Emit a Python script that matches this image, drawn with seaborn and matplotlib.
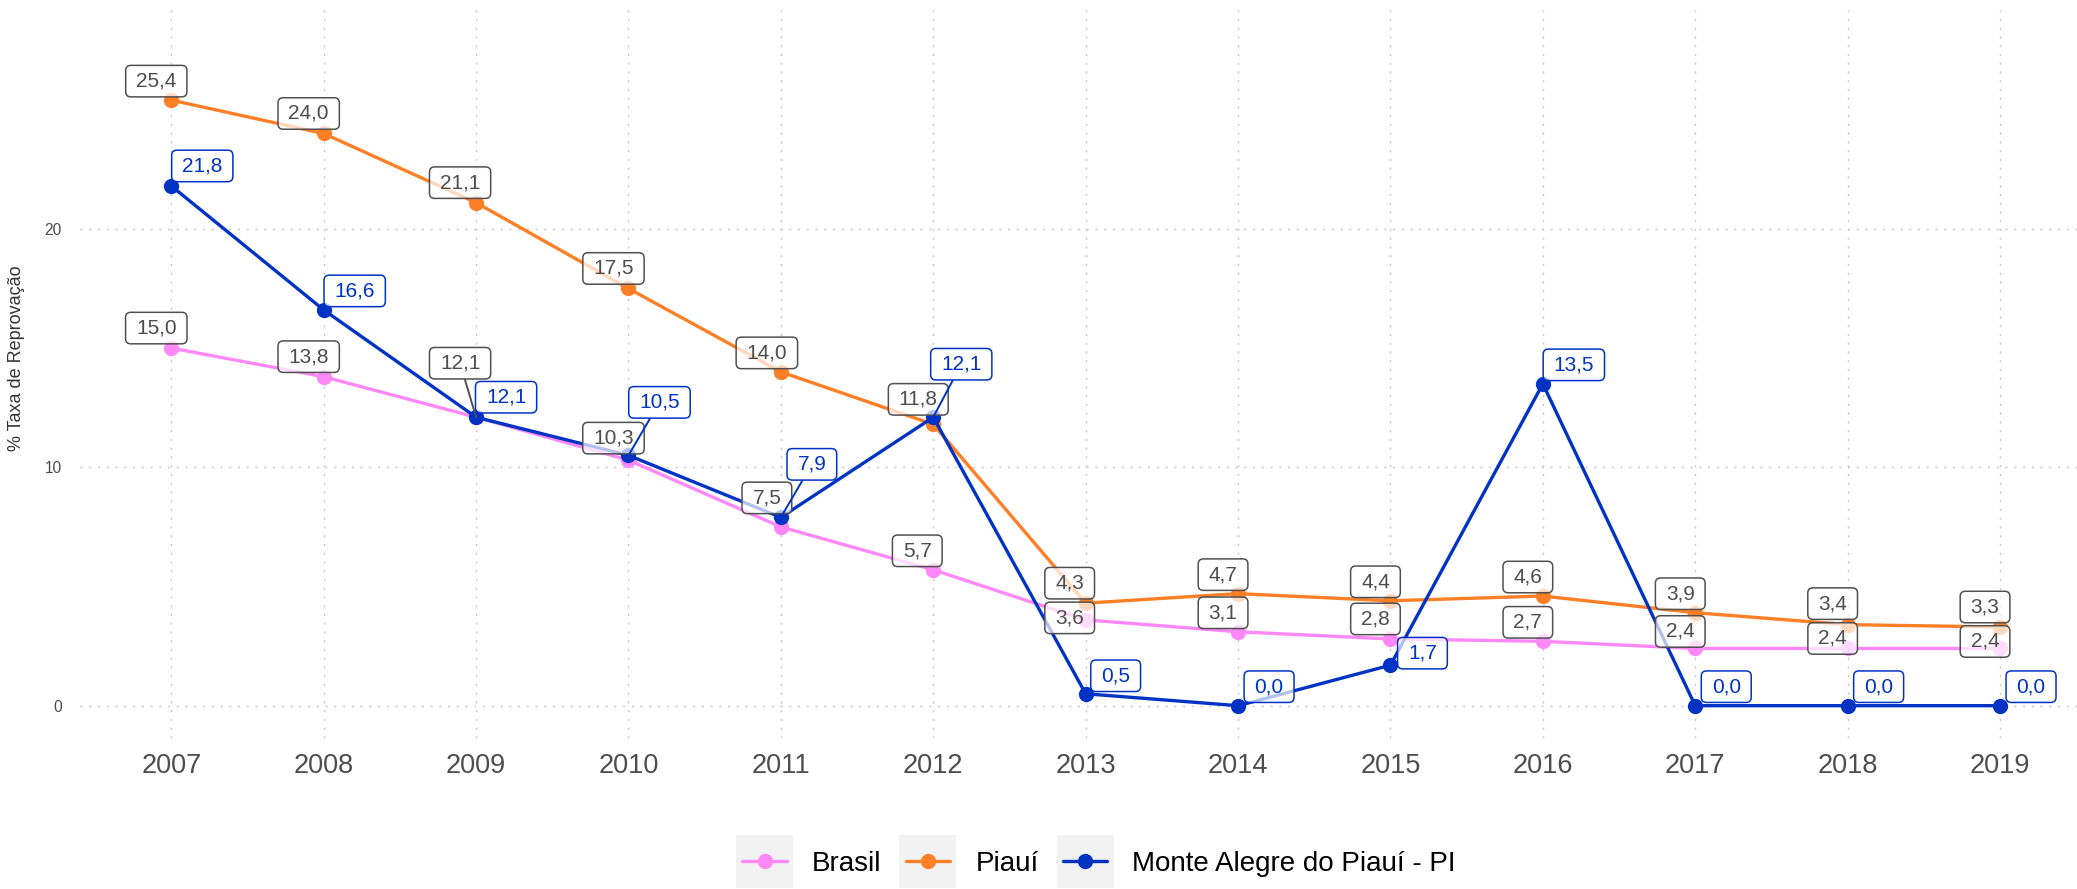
import matplotlib
matplotlib.use("Agg")
import matplotlib.pyplot as plt
import numpy as np
import pandas as pd
import seaborn as sns
from matplotlib.lines import Line2D
from matplotlib.patches import Rectangle, BoxStyle
from matplotlib.legend_handler import HandlerBase

# ---- data -------------------------------------------------------------
anos = list(range(2007, 2020))
locais = ["Brasil", "Piauí", "Monte Alegre do Piauí - PI"]
brasil = [15.0, 13.8, 12.1, 10.3, 7.5, 5.7, 3.6, 3.1, 2.8, 2.7, 2.4, 2.4, 2.4]
piaui = [25.4, 24.0, 21.1, 17.5, 14.0, 11.8, 4.3, 4.7, 4.4, 4.6, 3.9, 3.4, 3.3]
monte_alegre = [21.8, 16.6, 12.1, 10.5, 7.9, 12.1, 0.5, 0.0, 1.7, 13.5, 0.0, 0.0, 0.0]
y_ticks = [0, 10, 20]
y_titulo = "% Taxa de Reprovação"

# ---- style ------------------------------------------------------------
cores = ["#FF88F9", "#FF7F27", "#0033C4"]
cor_rotulo_texto = ["#4D4D4D", "#4D4D4D", "#0033C4"]
cor_rotulo_borda = ["#505050", "#505050", "#0033C4"]
largura_linha = 2.4
tamanho_ponto = 11

# label offsets in pixels (dx, dy upward) from each point, per series
desloc = {
    "Brasil": [(-15, 20), (-15, 20), (-16, 54), (-15, 22), (-14, 29), (-16, 19),
               (-16, 2), (-15, 19), (-15, 20), (-15, 19), (-15, 17), (-15, 10), (-15, 7)],
    "Piauí": [(-15, 19), (-15, 20), (-16, 20), (-15, 20), (-14, 19), (-15, 25),
              (-16, 20), (-15, 19), (-15, 19), (-15, 19), (-15, 19), (-15, 21), (-15, 20)],
    "Monte Alegre do Piauí - PI": [(31, 20), (31, 19), (30, 20), (31, 53), (31, 53), (28, 53),
                                   (30, 18), (31, 19), (32, 12), (31, 19), (31, 19), (31, 19), (31, 19)],
}

sns.set_theme(style="white")
plt.rcParams["font.family"] = ["Liberation Sans", "DejaVu Sans"]

df = pd.DataFrame({
    "Ano": anos * 3,
    "Taxa": brasil + piaui + monte_alegre,
    "Local": [locais[0]] * len(anos) + [locais[1]] * len(anos) + [locais[2]] * len(anos),
})

W, H = 2077, 889
fig = plt.figure(figsize=(W / 100, H / 100), dpi=100)
ax = fig.add_axes([80 / W, 151 / H, (W - 80) / W, 728 / H])

sns.lineplot(data=df, x="Ano", y="Taxa", hue="Local", hue_order=locais,
             palette=cores, marker="o", markersize=tamanho_ponto, markeredgewidth=0,
             linewidth=largura_linha, estimator=None, sort=False, legend=False, ax=ax)

ax.set_xlim(2006.401, 2019.505)
ax.set_ylim(-1.355, 29.18)
ax.set_xticks(anos)
ax.set_xticklabels([str(a) for a in anos])
ax.set_yticks(y_ticks)
ax.grid(True, color="#C8C8C8", linestyle=(0, (1.5, 4.8)), linewidth=1.0)
ax.set_axisbelow(True)
for s in ax.spines.values():
    s.set_visible(False)
ax.tick_params(axis="x", length=0, pad=11, labelsize=19.5, labelcolor="#4D4D4D")
ax.tick_params(axis="y", length=0, pad=13, labelsize=11.2, labelcolor="#4D4D4D")
ax.set_xlabel("")
ax.set_ylabel(y_titulo, fontsize=13, color="#333333")
ax.yaxis.set_label_coords(-0.0275, 0.522)


def caixa_rotulo(x0, y0, width, height, mutation_size):
    px = 0.50 * mutation_size
    py = 0.30 * mutation_size
    return BoxStyle.Round(pad=0, rounding_size=0.25)(
        x0 - px, y0 - py, width + 2 * px, height + 2 * py, mutation_size)


series = [brasil, piaui, monte_alegre]
for i, (local, valores) in enumerate(zip(locais, series)):
    for ano, v, (dx, dy) in zip(anos, valores, desloc[local]):
        texto = f"{v:.1f}".replace(".", ",")
        seta = None
        if abs(dy) > 40:
            seta = dict(arrowstyle="-", color=cor_rotulo_borda[i], lw=1.4,
                        shrinkA=0, shrinkB=0)
        ax.annotate(texto, xy=(ano, v), xytext=(dx, dy), textcoords="offset pixels",
                    ha="center", va="center", fontsize=15,
                    color=cor_rotulo_texto[i],
                    bbox=dict(boxstyle=caixa_rotulo, fc=(1, 1, 1, 0.7),
                              ec=cor_rotulo_borda[i], lw=1.1),
                    arrowprops=seta, zorder=6, annotation_clip=False)


class ChaveLegenda(HandlerBase):
    def create_artists(self, legend, orig_handle, xdescent, ydescent,
                       width, height, fontsize, trans):
        cy = height / 2 - ydescent
        x0 = -xdescent
        fundo = Rectangle((x0, cy - 0.955 * fontsize), width, 1.91 * fontsize,
                          facecolor="#F2F2F2", edgecolor="none", transform=trans)
        margem = 0.11 * width
        linha = Line2D([x0 + margem, x0 + width - margem], [cy, cy],
                       color=orig_handle.get_color(), lw=largura_linha, transform=trans)
        ponto = Line2D([x0 + width / 2], [cy], marker="o", markersize=tamanho_ponto,
                       markeredgewidth=0, color=orig_handle.get_color(),
                       linestyle="none", transform=trans)
        return [fundo, linha, ponto]


alcas = [Line2D([], [], color=c) for c in cores]
leg = fig.legend(alcas, locais, loc="center", bbox_to_anchor=(1096 / W, 25 / H),
                 ncol=3, frameon=False, fontsize=20, handlelength=2.05,
                 handletextpad=0.68, columnspacing=0.65,
                 handler_map={Line2D: ChaveLegenda()})
for t in leg.get_texts():
    t.set_color("black")

fig.savefig("out.png", dpi=100)
